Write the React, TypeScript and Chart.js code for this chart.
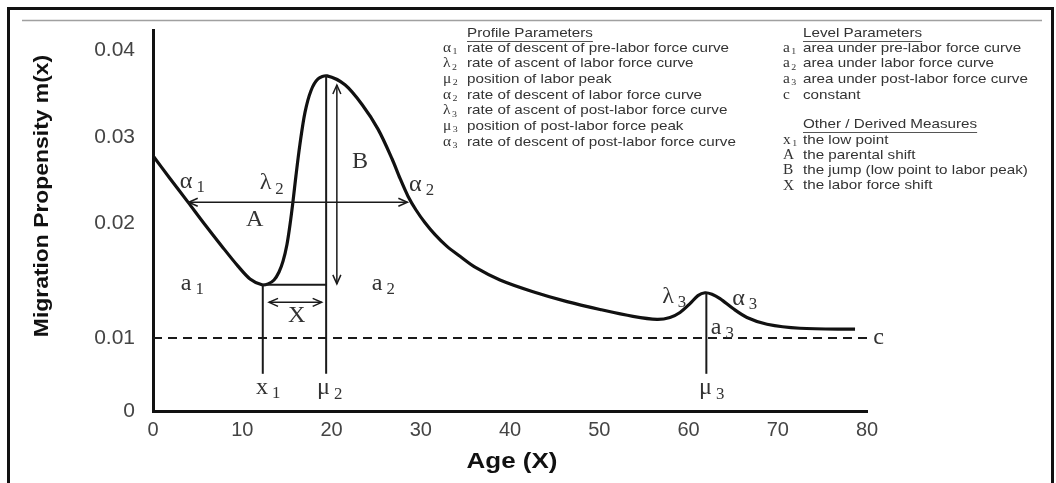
import React, { useEffect, useRef } from 'react';
import { Chart, registerables, LinearScale } from 'chart.js';

// ---------- data ----------
const AGES = [0, 1.90, 3.92, 5.83, 7.73, 9.52, 10.87, 12.21, 12.89, 13.56, 14.12, 14.57, 15.01, 15.35, 15.69, 16.02, 16.47, 17.03, 17.70, 18.49, 19.50, 21.51, 23.42, 25.21, 26.78, 27.68, 28.57, 29.47, 30.48, 31.60, 32.94, 34.40, 36.08, 38.88, 42.58, 46.39, 50.08, 53.78, 56.47, 57.93, 59.05, 60.17, 61.06, 61.85, 62.63, 63.53, 64.99, 66.55, 68.80, 72.49, 78.66];
const PROPENSITY = [0.02782, 0.02517, 0.02241, 0.01983, 0.01795, 0.01624, 0.01513, 0.01462, 0.0147, 0.01504, 0.01573, 0.01667, 0.01812, 0.01983, 0.02253, 0.02552, 0.0292, 0.03284, 0.03534, 0.0367, 0.03705, 0.03602, 0.03375, 0.03091, 0.02747, 0.02517, 0.0231, 0.02149, 0.02, 0.01897, 0.01795, 0.01709, 0.01615, 0.01504, 0.01402, 0.01316, 0.01248, 0.01188, 0.01162, 0.01179, 0.01222, 0.01299, 0.01368, 0.01393, 0.0138, 0.01342, 0.01256, 0.01179, 0.0112, 0.01085, 0.01077];

const X_TICKS = [0, 10, 20, 30, 40, 50, 60, 70, 80];
const Y_TICKS = [0, 0.01, 0.02, 0.03, 0.04];
const Y_TICK_LABELS = ['0', '0.01', '0.02', '0.03', '0.04'];

// schematic (non-uniform) value axis of the original figure
const Y_BREAKS = [0, 0.01, 0.02, 0.03, 0.04, 0.0423];
const Y_FRACTIONS = [0, 0.1917, 0.4948, 0.7202, 0.9482, 1];

// model parameters marked on the figure
const CONSTANT_C = 0.01;
const X1 = 12.3;
const MU2 = 19.4;
const MU3 = 62;
const LOW_VALUE = 0.01462;
const PEAK2_VALUE = 0.0371;
const PEAK3_VALUE = 0.0139;
const MARKER_FOOT = 0.0051;
const A_ARROW = { y: 0.0224, from: 4.0, to: 28.5 };
const B_ARROW = { x: 20.6, from: 0.0360, to: 0.0147 };
const X_ARROW = { y: 0.0131, from: 13.0, to: 18.9 };

const CURVE_LABELS = [
  { main: 'α', sub: '1', x: 4.4, y: 0.0248 },
  { main: 'λ', sub: '2', x: 13.3, y: 0.0246 },
  { main: 'A', sub: '', x: 11.4, y: 0.0203 },
  { main: 'B', sub: '', x: 23.2, y: 0.0271 },
  { main: 'α', sub: '2', x: 30.1, y: 0.0244 },
  { main: 'a', sub: '1', x: 4.4, y: 0.0147 },
  { main: 'a', sub: '2', x: 25.8, y: 0.0147 },
  { main: 'X', sub: '', x: 16.1, y: 0.0119 },
  { main: 'x', sub: '1', x: 12.9, y: 0.0032 },
  { main: 'μ', sub: '2', x: 19.8, y: 0.0031 },
  { main: 'λ', sub: '3', x: 58.4, y: 0.0136 },
  { main: 'α', sub: '3', x: 66.3, y: 0.0134 },
  { main: 'a', sub: '3', x: 63.8, y: 0.0109 },
  { main: 'μ', sub: '3', x: 62.6, y: 0.0031 },
  { main: 'c', sub: '', x: 81.3, y: 0.0100 },
];

const PROFILE_TITLE = 'Profile Parameters';
const PROFILE_ITEMS = [
  { sym: 'α', sub: '1', text: 'rate of descent of pre-labor force curve' },
  { sym: 'λ', sub: '2', text: 'rate of ascent of labor force curve' },
  { sym: 'μ', sub: '2', text: 'position of labor peak' },
  { sym: 'α', sub: '2', text: 'rate of descent of labor force curve' },
  { sym: 'λ', sub: '3', text: 'rate of ascent of post-labor force curve' },
  { sym: 'μ', sub: '3', text: 'position of post-labor force peak' },
  { sym: 'α', sub: '3', text: 'rate of descent of post-labor force curve' },
];
const LEVEL_TITLE = 'Level Parameters';
const LEVEL_ITEMS = [
  { sym: 'a', sub: '1', text: 'area under pre-labor force curve' },
  { sym: 'a', sub: '2', text: 'area under labor force curve' },
  { sym: 'a', sub: '3', text: 'area under post-labor force curve' },
  { sym: 'c', sub: '', text: 'constant' },
];
const OTHER_TITLE = 'Other / Derived Measures';
const OTHER_ITEMS = [
  { sym: 'x', sub: '1', text: 'the low point' },
  { sym: 'A', sub: '', text: 'the parental shift' },
  { sym: 'B', sub: '', text: 'the jump (low point to labor peak)' },
  { sym: 'X', sub: '', text: 'the labor force shift' },
];

const X_TITLE = 'Age (X)';
const Y_TITLE = 'Migration Propensity m(x)';

// ---------- styles ----------
const SANS = '"Liberation Sans", Arial, Helvetica, sans-serif';
const SERIF = '"Liberation Serif", "Times New Roman", serif';
const INK = '#111111';
const TEXT = '#333333';
const STRETCH = 1.17; // the original figure is horizontally widened

function interp(v: number, from: number[], to: number[]) {
  if (v <= from[0]) return to[0] + (v - from[0]) * (to[1] - to[0]) / (from[1] - from[0]);
  for (let i = 1; i < from.length; i++) {
    if (v <= from[i]) {
      const t = (v - from[i - 1]) / (from[i] - from[i - 1]);
      return to[i - 1] + t * (to[i] - to[i - 1]);
    }
  }
  const n = from.length - 1;
  return to[n] + (v - from[n]) * (to[n] - to[n - 1]) / (from[n] - from[n - 1]);
}

class SchematicScale extends LinearScale {
  static id = 'schematic';
  static defaults = {};
  getPixelForValue(value: number) {
    if (value === null || value === undefined || isNaN(value)) return NaN;
    return this.getPixelForDecimal(interp(value, Y_BREAKS, Y_FRACTIONS));
  }
  getValueForPixel(pixel: number) {
    return interp(this.getDecimalForPixel(pixel), Y_FRACTIONS, Y_BREAKS);
  }
}

Chart.register(...registerables, SchematicScale as any);

// draws text widened horizontally; returns drawn width
function wideText(ctx: CanvasRenderingContext2D, text: string, x: number, y: number, sx: number) {
  const w = ctx.measureText(text).width * sx;
  ctx.save();
  ctx.translate(x, y);
  ctx.scale(sx, 1);
  ctx.textAlign = 'left';
  ctx.fillText(text, 0, 0);
  ctx.restore();
  return w;
}

function drawSym(ctx: CanvasRenderingContext2D, cx: number, cy: number, main: string, sub: string,
  size: number, subSize: number, gap: number, align: 'center' | 'left', sx: number) {
  ctx.font = `${size}px ${SERIF}`;
  const w1 = ctx.measureText(main).width * sx;
  ctx.font = `${subSize}px ${SERIF}`;
  const w2 = sub ? ctx.measureText(sub).width * sx : 0;
  const total = w1 + (sub ? gap + w2 : 0);
  const start = align === 'center' ? cx - total / 2 : cx;
  ctx.textBaseline = 'middle';
  ctx.font = `${size}px ${SERIF}`;
  wideText(ctx, main, start, cy, sx);
  if (sub) {
    ctx.font = `${subSize}px ${SERIF}`;
    wideText(ctx, sub, start + w1 + gap, cy + size * 0.26, sx);
  }
}

function arrowHead(ctx: CanvasRenderingContext2D, x: number, y: number, dx: number, dy: number) {
  const len = 9, half = 4;
  const px = -dy, py = dx;
  ctx.beginPath();
  ctx.moveTo(x - dx * len + px * half, y - dy * len + py * half);
  ctx.lineTo(x, y);
  ctx.lineTo(x - dx * len - px * half, y - dy * len - py * half);
  ctx.stroke();
}

function doubleArrow(ctx: CanvasRenderingContext2D, x1: number, y1: number, x2: number, y2: number) {
  const L = Math.hypot(x2 - x1, y2 - y1);
  const dx = (x2 - x1) / L, dy = (y2 - y1) / L;
  ctx.beginPath();
  ctx.moveTo(x1, y1);
  ctx.lineTo(x2, y2);
  ctx.stroke();
  arrowHead(ctx, x2, y2, dx, dy);
  arrowHead(ctx, x1, y1, -dx, -dy);
}

const framePlugin = {
  id: 'frame',
  beforeDraw(chart: any) {
    const ctx = chart.ctx as CanvasRenderingContext2D;
    ctx.save();
    ctx.fillStyle = '#ffffff';
    ctx.fillRect(0, 0, chart.width, chart.height);
    ctx.strokeStyle = INK;
    ctx.lineWidth = 3;
    ctx.beginPath();
    ctx.moveTo(8.5, chart.height + 2);
    ctx.lineTo(8.5, 8.5);
    ctx.lineTo(1052.5, 8.5);
    ctx.lineTo(1052.5, chart.height + 2);
    ctx.stroke();
    ctx.strokeStyle = '#a0a0a0';
    ctx.lineWidth = 1.5;
    ctx.beginPath();
    ctx.moveTo(22, 20.5);
    ctx.lineTo(1042, 20.5);
    ctx.stroke();
    ctx.restore();
  },
};

const annotationPlugin = {
  id: 'schemaAnnotations',
  afterDatasetsDraw(chart: any) {
    const ctx = chart.ctx as CanvasRenderingContext2D;
    const xs = chart.scales.x, ys = chart.scales.y;
    const X = (v: number) => xs.getPixelForValue(v);
    const Y = (v: number) => ys.getPixelForValue(v);
    ctx.save();
    ctx.strokeStyle = '#1a1a1a';
    ctx.lineWidth = 2;
    ctx.lineCap = 'butt';
    const vline = (x: number, top: number) => {
      ctx.beginPath();
      ctx.moveTo(X(x), Y(top));
      ctx.lineTo(X(x), Y(MARKER_FOOT));
      ctx.stroke();
    };
    vline(X1, LOW_VALUE);
    vline(MU2, PEAK2_VALUE);
    vline(MU3, PEAK3_VALUE);
    ctx.beginPath();
    ctx.moveTo(X(X1), Y(LOW_VALUE));
    ctx.lineTo(X(MU2), Y(LOW_VALUE));
    ctx.stroke();
    ctx.lineWidth = 1.5;
    doubleArrow(ctx, X(A_ARROW.from), Y(A_ARROW.y), X(A_ARROW.to), Y(A_ARROW.y));
    doubleArrow(ctx, X(B_ARROW.x), Y(B_ARROW.from), X(B_ARROW.x), Y(B_ARROW.to));
    doubleArrow(ctx, X(X_ARROW.from), Y(X_ARROW.y), X(X_ARROW.to), Y(X_ARROW.y));
    ctx.fillStyle = TEXT;
    CURVE_LABELS.forEach((l) => {
      drawSym(ctx, X(l.x), Y(l.y), l.main, l.sub, 23, 16, 4, 'center', 1.05);
    });
    ctx.restore();
  },
};

function drawLegendBlock(ctx: CanvasRenderingContext2D, symX: number, textX: number, titleY: number,
  title: string, items: { sym: string; sub: string; text: string }[], rowStart: number, rowStep: number) {
  ctx.fillStyle = TEXT;
  ctx.font = `13px ${SANS}`;
  ctx.textBaseline = 'middle';
  const w = wideText(ctx, title, textX, titleY, STRETCH);
  ctx.strokeStyle = '#555555';
  ctx.lineWidth = 1;
  ctx.beginPath();
  ctx.moveTo(textX, titleY + 8.5);
  ctx.lineTo(textX + w, titleY + 8.5);
  ctx.stroke();
  items.forEach((it, i) => {
    const y = rowStart + i * rowStep;
    ctx.fillStyle = TEXT;
    drawSym(ctx, symX, y, it.sym, it.sub, 14, 9, 1.5, 'left', 1.1);
    ctx.font = `13px ${SANS}`;
    ctx.textBaseline = 'middle';
    wideText(ctx, it.text, textX, y, STRETCH);
  });
}

const titlesPlugin = {
  id: 'titlesAndKey',
  afterDraw(chart: any) {
    const ctx = chart.ctx as CanvasRenderingContext2D;
    ctx.save();
    ctx.fillStyle = INK;
    ctx.textBaseline = 'middle';
    ctx.font = `bold 22px ${SANS}`;
    const tw = ctx.measureText(X_TITLE).width * 1.18;
    wideText(ctx, X_TITLE, 512 - tw / 2, 462, 1.18);
    ctx.save();
    ctx.translate(42, 196);
    ctx.rotate(-Math.PI / 2);
    ctx.font = `bold 21px ${SANS}`;
    const yw = ctx.measureText(Y_TITLE).width * 1.09;
    wideText(ctx, Y_TITLE, -yw / 2, 0, 1.09);
    ctx.restore();
    drawLegendBlock(ctx, 443, 467, 33, PROFILE_TITLE, PROFILE_ITEMS, 48, 15.7);
    drawLegendBlock(ctx, 783, 803, 33, LEVEL_TITLE, LEVEL_ITEMS, 48, 15.7);
    drawLegendBlock(ctx, 783, 803, 124, OTHER_TITLE, OTHER_ITEMS, 140, 15.3);
    ctx.restore();
  },
};

export default function App() {
  const canvasRef = useRef<HTMLCanvasElement | null>(null);

  useEffect(() => {
    if (!canvasRef.current) return;
    const chart = new Chart(canvasRef.current, {
      type: 'line',
      data: {
        datasets: [
          {
            label: 'm(x)',
            data: AGES.map((a, i) => ({ x: a, y: PROPENSITY[i] })),
            borderColor: INK,
            borderWidth: 3.2,
            pointRadius: 0,
            tension: 0.3,
            fill: false,
          },
          {
            label: 'c',
            data: [{ x: 0, y: CONSTANT_C }, { x: 80, y: CONSTANT_C }],
            borderColor: '#1a1a1a',
            borderWidth: 2,
            borderDash: [9, 6],
            pointRadius: 0,
            fill: false,
          },
        ],
      },
      options: {
        animation: false,
        responsive: false,
        maintainAspectRatio: false,
        layout: { padding: { left: 8, right: 189, top: 25, bottom: 0 } },
        plugins: {
          legend: { display: false },
          tooltip: { enabled: false },
          title: { display: false },
        },
        scales: {
          x: {
            type: 'linear',
            min: 0,
            max: 80,
            afterBuildTicks: (s: any) => { s.ticks = X_TICKS.map((v) => ({ value: v })); },
            afterFit: (s: any) => { s.height = 72; },
            ticks: {
              callback: (v: any) => String(v),
              font: { family: SANS, size: 20 },
              color: '#444444',
              padding: 7,
              maxRotation: 0,
              autoSkip: false,
            },
            grid: { display: false, drawTicks: false },
            border: { display: true, color: INK, width: 3 },
          },
          y: {
            type: 'schematic' as any,
            min: 0,
            max: Y_BREAKS[Y_BREAKS.length - 1],
            afterBuildTicks: (s: any) => { s.ticks = Y_TICKS.map((v) => ({ value: v })); },
            afterFit: (s: any) => { s.width = 145; },
            ticks: {
              callback: (_v: any, i: number) => Y_TICK_LABELS[i],
              font: { family: SANS, size: 21 },
              color: '#444444',
              padding: 18,
              autoSkip: false,
            },
            grid: { display: false, drawTicks: false },
            border: { display: true, color: INK, width: 3 },
          },
        },
      },
      plugins: [framePlugin, annotationPlugin, titlesPlugin],
    } as any);
    return () => chart.destroy();
  }, []);

  return (
    <div style={{ position: 'fixed', left: 0, top: 0, width: 1056, height: 483, background: '#fff' }}>
      <canvas ref={canvasRef} width={1056} height={483} style={{ width: 1056, height: 483, display: 'block' }} />
    </div>
  );
}
